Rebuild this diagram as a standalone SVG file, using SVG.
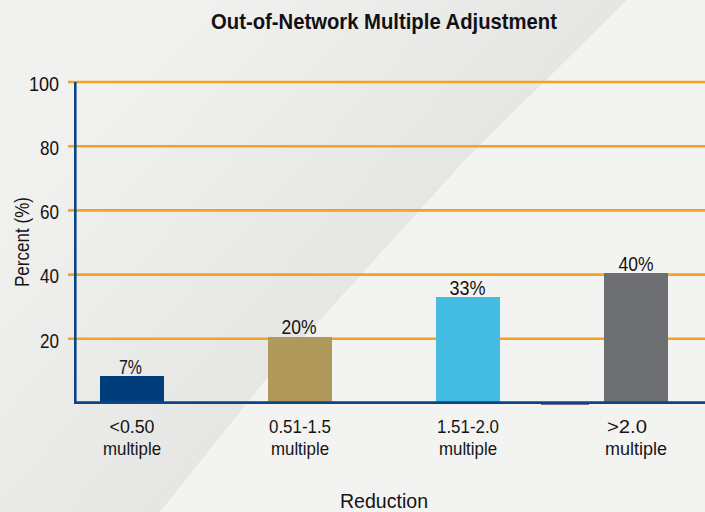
<svg xmlns="http://www.w3.org/2000/svg" width="705" height="512" viewBox="0 0 705 512">
<defs>
<linearGradient id="shade" gradientUnits="userSpaceOnUse" x1="140" y1="30" x2="385" y2="250">
<stop offset="0" stop-color="#f1f1f0"/>
<stop offset="1" stop-color="#e6e6e5"/>
</linearGradient>
<style>
text{font-family:"Liberation Sans",Arial,sans-serif;fill:#141414}
.title{font-size:22px;font-weight:bold;fill:#111}
.ytick{font-size:19.5px;text-anchor:end}
.val{font-size:20px;text-anchor:middle}
.cat{font-size:18.5px;text-anchor:middle}
.axt{font-size:21px;text-anchor:middle}
.grid{stroke:#f5a21f;stroke-width:2.6}
.axis{stroke:#0b4588;stroke-width:2.6;fill:none}
</style>
</defs>
<rect x="0" y="0" width="705" height="512" fill="#f3f3f2"/>
<polygon points="0,0 627,0 465,160 263,383 160,512 0,512" fill="url(#shade)"/>
<text class="title" x="384" y="29" text-anchor="middle" textLength="346" lengthAdjust="spacingAndGlyphs">Out-of-Network Multiple Adjustment</text>
<g id="grid">
<line class="grid" x1="68" y1="82" x2="705" y2="82"/>
<line class="grid" x1="68" y1="146.2" x2="705" y2="146.2"/>
<line class="grid" x1="68" y1="210.4" x2="705" y2="210.4"/>
<line class="grid" x1="68" y1="274.6" x2="705" y2="274.6"/>
<line class="grid" x1="68" y1="338.8" x2="705" y2="338.8"/>
</g>
<g id="yticks">
<text class="ytick" x="59" y="90.7" textLength="30" lengthAdjust="spacingAndGlyphs">100</text>
<text class="ytick" x="59" y="154.9" textLength="19" lengthAdjust="spacingAndGlyphs">80</text>
<text class="ytick" x="59" y="219.1" textLength="19" lengthAdjust="spacingAndGlyphs">60</text>
<text class="ytick" x="59" y="283.3" textLength="19" lengthAdjust="spacingAndGlyphs">40</text>
<text class="ytick" x="59" y="347.5" textLength="19" lengthAdjust="spacingAndGlyphs">20</text>
</g>
<text class="axt" transform="translate(28.5,242) rotate(-90)" x="0" y="0" font-size="20" textLength="90" lengthAdjust="spacingAndGlyphs">Percent (%)</text>
<g id="bar1">
<rect x="100" y="376" width="64" height="27" fill="#003d7b"/>
<text class="val" x="130.5" y="373.5" textLength="23" lengthAdjust="spacingAndGlyphs">7%</text>
<text class="cat" x="132" y="433" textLength="45" lengthAdjust="spacingAndGlyphs">&lt;0.50</text>
<text class="cat" x="132" y="455" textLength="58" lengthAdjust="spacingAndGlyphs">multiple</text>
</g>
<g id="bar2">
<rect x="268" y="337" width="64" height="66" fill="#b0995b"/>
<text class="val" x="299" y="334.3" textLength="35" lengthAdjust="spacingAndGlyphs">20%</text>
<text class="cat" x="300" y="433" textLength="62" lengthAdjust="spacingAndGlyphs">0.51-1.5</text>
<text class="cat" x="300" y="455" textLength="58" lengthAdjust="spacingAndGlyphs">multiple</text>
</g>
<g id="bar3">
<rect x="436" y="297" width="64" height="106" fill="#45bce2"/>
<text class="val" x="467.5" y="294.7" textLength="36" lengthAdjust="spacingAndGlyphs">33%</text>
<text class="cat" x="468" y="433" textLength="62" lengthAdjust="spacingAndGlyphs">1.51-2.0</text>
<text class="cat" x="468" y="455" textLength="58" lengthAdjust="spacingAndGlyphs">multiple</text>
</g>
<g id="bar4">
<rect x="604" y="273" width="64" height="130" fill="#6e6f73"/>
<text class="val" x="636" y="270.7" textLength="35" lengthAdjust="spacingAndGlyphs">40%</text>
<text class="cat" x="627" y="433" textLength="40" lengthAdjust="spacingAndGlyphs">&gt;2.0</text>
<text class="cat" x="636" y="455" textLength="62" lengthAdjust="spacingAndGlyphs">multiple</text>
</g>
<g id="axes">
<rect x="541" y="402.5" width="48" height="2.2" fill="#3b3566"/>
<polyline class="axis" points="75.3,82 75.3,402.6 705,402.6"/>
</g>
<text class="axt" x="384" y="508" textLength="88" lengthAdjust="spacingAndGlyphs">Reduction</text>
</svg>
